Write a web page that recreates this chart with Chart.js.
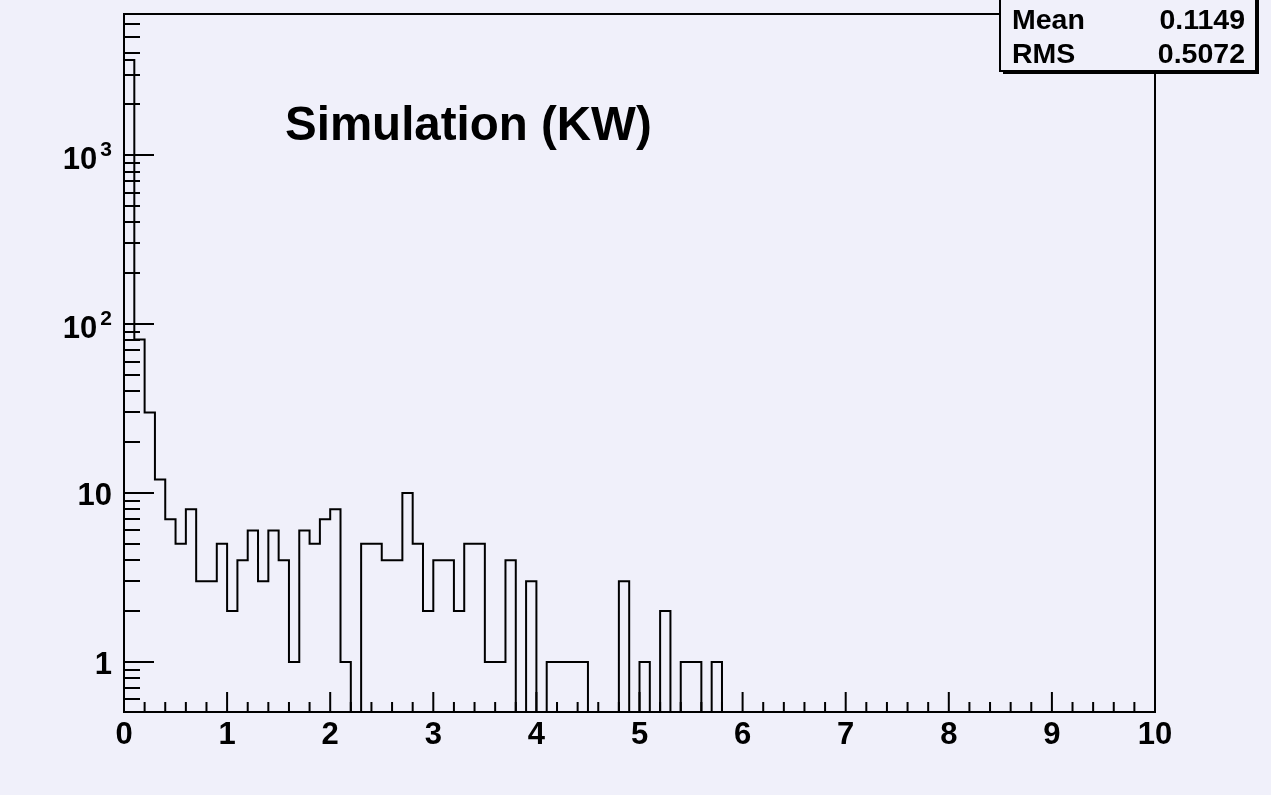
<!DOCTYPE html>
<html>
<head>
<meta charset="utf-8">
<title>Simulation (KW)</title>
<script src="https://cdn.jsdelivr.net/npm/chart.js@4.4.0/dist/chart.umd.min.js"></script>
<style>
  html, body { margin: 0; padding: 0; background: #f0f0fa; }
  #wrap { width: 1271px; height: 795px; position: relative; }
</style>
</head>
<body>
<div id="wrap"><canvas id="histo"></canvas></div>
<script>
// histogram binning: 100 bins of 0.1 between 0 and 10
const binLow = 0;
const binWidth = 0.1;
const counts = [
  3660, 81, 30, 12, 7, 5, 8, 3, 3, 5,
  2, 4, 6, 3, 6, 4, 1, 6, 5, 7,
  8, 1, 0, 5, 5, 4, 4, 10, 5, 2,
  4, 4, 2, 5, 5, 1, 1, 4, 0, 3,
  0, 1, 1, 1, 1, 0, 0, 0, 3, 0,
  1, 0, 2, 0, 1, 1, 0, 1, 0, 0,
  0, 0, 0, 0, 0, 0, 0, 0, 0, 0,
  0, 0, 0, 0, 0, 0, 0, 0, 0, 0,
  0, 0, 0, 0, 0, 0, 0, 0, 0, 0,
  0, 0, 0, 0, 0, 0, 0, 0, 0, 0
];

// axis ranges and labels
const xRange = [0, 10];
const yRange = [0.505, 6850];
const xTickLabels = ['0', '1', '2', '3', '4', '5', '6', '7', '8', '9', '10'];
const yTickValues = [1, 10, 100, 1000];
const yTickBase = ['1', '10', '10', '10'];
const yTickExp = ['', '', '2', '3'];

const titleText = 'Simulation (KW)';
const statNames = ['Mean', 'RMS'];
const statValues = ['0.1149', '0.5072'];

const BG = '#f0f0fa';
const FONT = "'Liberation Sans', Arial, Helvetica, sans-serif";

// outline points for a stepped line; empty bins sit on the axis floor
const floorY = yRange[0];
const level = c => (c > 0 ? c : floorY);
const steps = [{ x: binLow, y: floorY }];
counts.forEach((c, i) => {
    steps.push({ x: binLow + i * binWidth, y: level(c) });
});
const xEnd = binLow + counts.length * binWidth;
steps.push({ x: xEnd, y: level(counts[counts.length - 1]) });
steps.push({ x: xEnd, y: floorY });

// ROOT-like frame, inward ticks, log labels, title and stats box
const rootPad = {
    id: 'rootPad',
    beforeDraw(chart) {
        const ctx = chart.ctx;
        ctx.save();
        ctx.fillStyle = BG;
        ctx.fillRect(0, 0, chart.width, chart.height);
        ctx.restore();
    },
    afterDatasetsDraw(chart) {
        const { ctx, chartArea: a, scales: { x, y } } = chart;
        ctx.save();
        ctx.strokeStyle = '#000';
        ctx.lineWidth = 2;
        ctx.strokeRect(a.left, a.top, a.right - a.left, a.bottom - a.top);

        ctx.beginPath();
        for (let i = 0; i <= 50; i++) {
            const px = x.getPixelForValue(i * 0.2);
            const len = i % 5 === 0 ? 20 : 10;
            ctx.moveTo(px, a.bottom);
            ctx.lineTo(px, a.bottom - len);
        }
        for (let e = -1; e <= 4; e++) {
            for (let m = 1; m <= 9; m++) {
                const v = m * Math.pow(10, e);
                if (v <= y.min || v >= y.max) continue;
                const py = Math.round(y.getPixelForValue(v));
                ctx.moveTo(a.left, py);
                ctx.lineTo(a.left + (m === 1 ? 30 : 16), py);
            }
        }
        ctx.stroke();

        // y labels with exponents
        ctx.fillStyle = '#000';
        ctx.textAlign = 'right';
        ctx.textBaseline = 'alphabetic';
        const labelRight = a.left - 12;
        yTickValues.forEach((v, i) => {
            const py = y.getPixelForValue(v);
            if (yTickExp[i]) {
                ctx.font = 'bold 21px ' + FONT;
                ctx.fillText(yTickExp[i], labelRight, py + 1);
                const w = ctx.measureText(yTickExp[i]).width;
                ctx.font = 'bold 31px ' + FONT;
                ctx.fillText(yTickBase[i], labelRight - w - 3, py + 14);
            } else {
                ctx.font = 'bold 31px ' + FONT;
                ctx.fillText(yTickBase[i], labelRight, py + 12);
            }
        });

        // title
        ctx.textAlign = 'left';
        ctx.font = 'bold 47.5px ' + FONT;
        ctx.fillText(titleText, 285, 140);

        // stats box with shadow
        ctx.fillStyle = '#000';
        ctx.fillRect(1003, 0, 256, 74);
        ctx.fillStyle = BG;
        ctx.fillRect(1000, -5, 256, 76);
        ctx.strokeRect(1000, -5, 256, 76);
        ctx.fillStyle = '#000';
        ctx.font = 'bold 28.5px ' + FONT;
        statNames.forEach((name, i) => {
            const base = 29 + i * 34;
            ctx.textAlign = 'left';
            ctx.fillText(name, 1012, base);
            ctx.textAlign = 'right';
            ctx.fillText(statValues[i], 1245, base);
        });
        ctx.restore();
    }
};

new Chart(document.getElementById('histo'), {
    type: 'line',
    data: {
        datasets: [{
            data: steps,
            stepped: 'before',
            borderColor: '#000',
            borderWidth: 2,
            pointRadius: 0,
            fill: false
        }]
    },
    options: {
        responsive: true,
        maintainAspectRatio: false,
        animation: false,
        layout: { padding: { top: 14, right: 116, left: 0, bottom: 0 } },
        plugins: {
            legend: { display: false },
            tooltip: { enabled: false }
        },
        scales: {
            x: {
                type: 'linear',
                min: xRange[0],
                max: xRange[1],
                afterFit: s => { s.height = 83; },
                grid: { display: false, drawTicks: false },
                border: { display: false },
                ticks: {
                    stepSize: 1,
                    padding: 5,
                    color: '#000',
                    font: { family: FONT, weight: 'bold', size: 31 },
                    callback: (v) => xTickLabels[Math.round(v)] ?? ''
                }
            },
            y: {
                type: 'logarithmic',
                min: yRange[0],
                max: yRange[1],
                afterFit: s => { s.width = 124; },
                grid: { display: false, drawTicks: false },
                border: { display: false },
                ticks: { display: false }
            }
        }
    },
    plugins: [rootPad]
});
</script>
</body>
</html>
